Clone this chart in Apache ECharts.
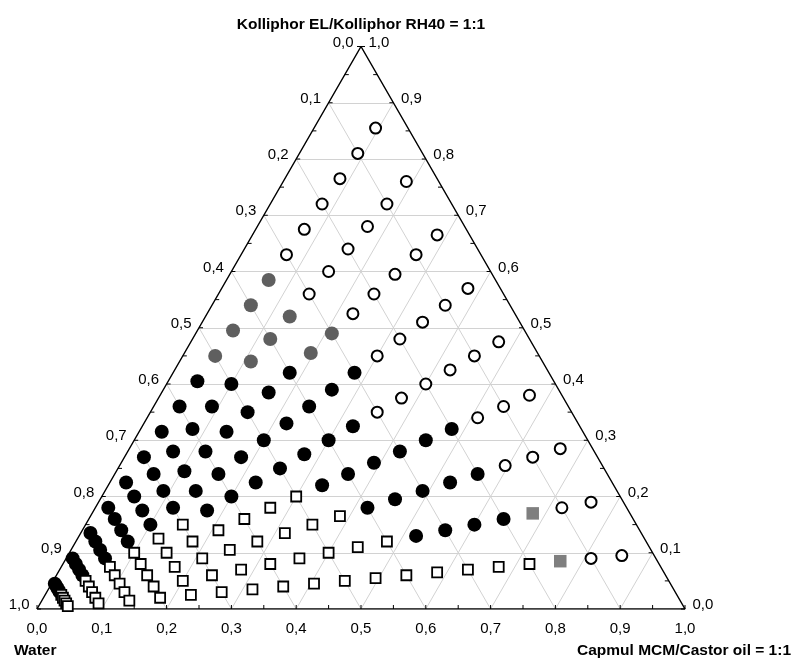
<!DOCTYPE html>
<html><head><meta charset="utf-8">
<script src="https://cdn.jsdelivr.net/npm/echarts@6/dist/echarts.min.js"></script>
<style>html,body{margin:0;padding:0;background:#fff}#c{width:793px;height:659px}</style>
</head><body><div id="c"></div>
<script>
// Pseudo-ternary diagram. Components: S = Kolliphor EL/RH40 (top), O = Capmul MCM/Castor oil (right), W = Water (left).
// Each point is [r, w]: r = S/(S+O) mixing ratio (dilution line), w = water fraction.
const tickLabels = ['0,0','0,1','0,2','0,3','0,4','0,5','0,6','0,7','0,8','0,9','1,0'];
const tickLabelValues = [0,0.1,0.2,0.3,0.4,0.5,0.6,0.7,0.8,0.9,1.0];
const tickMarks = [0,0.05,0.1,0.15,0.2,0.25,0.3,0.35,0.4,0.45,0.5,0.55,0.6,0.65,0.7,0.75,0.8,0.85,0.9,0.95,1.0];
const gridValues = [0.1,0.2,0.3,0.4,0.5,0.6,0.7,0.8,0.9];

const openCircles = [
  [0.9,0.05],[0.9,0.10],[0.9,0.15],[0.9,0.20],[0.9,0.25],[0.9,0.30],
  [0.8,0.05],[0.8,0.10],[0.8,0.15],[0.8,0.20],[0.8,0.25],[0.8,0.30],
  [0.7,0.05],[0.7,0.10],[0.7,0.15],[0.7,0.20],[0.7,0.25],
  [0.6,0.05],[0.6,0.10],[0.6,0.15],[0.6,0.20],[0.6,0.25],
  [0.5,0.05],[0.5,0.10],[0.5,0.15],[0.5,0.20],[0.5,0.25],[0.5,0.30],
  [0.4,0.05],[0.4,0.10],[0.4,0.15],
  [0.3,0.05],[0.3,0.10],[0.3,0.15],
  [0.2,0.05],[0.2,0.10],
  [0.1,0.05],[0.1,0.10]
];
const grayCircles = [
  [0.9,0.35],[0.9,0.40],[0.9,0.45],[0.9,0.50],
  [0.8,0.35],[0.8,0.40],[0.8,0.45],
  [0.7,0.30],[0.7,0.35]
];
const blackCircles = [
  [0.9,0.55],[0.9,0.60],[0.9,0.65],[0.9,0.70],[0.9,0.75],[0.9,0.80],[0.9,0.85],[0.9,0.90],[0.9,0.95],
  [0.8,0.50],[0.8,0.55],[0.8,0.60],[0.8,0.65],[0.8,0.70],[0.8,0.75],[0.8,0.80],[0.8,0.85],[0.8,0.90],[0.8,0.95],
  [0.7,0.40],[0.7,0.45],[0.7,0.50],[0.7,0.55],[0.7,0.60],[0.7,0.65],[0.7,0.70],[0.7,0.75],[0.7,0.80],[0.7,0.85],[0.7,0.90],[0.7,0.95],
  [0.6,0.30],[0.6,0.35],[0.6,0.40],[0.6,0.45],[0.6,0.50],[0.6,0.55],[0.6,0.60],[0.6,0.65],[0.6,0.70],[0.6,0.75],[0.6,0.80],[0.6,0.85],[0.6,0.90],[0.6,0.95],
  [0.5,0.35],[0.5,0.40],[0.5,0.45],[0.5,0.50],[0.5,0.55],[0.5,0.60],[0.5,0.65],
  [0.4,0.20],[0.4,0.25],[0.4,0.30],[0.4,0.35],[0.4,0.40],[0.4,0.45],
  [0.3,0.20],[0.3,0.25],[0.3,0.30],[0.3,0.35],[0.3,0.40],
  [0.2,0.20],[0.2,0.25],[0.2,0.30],[0.2,0.35]
];
const graySquares = [
  [0.2,0.15],[0.1,0.15]
];
const openSquares = [
  [0.5,0.70],[0.5,0.75],[0.5,0.80],[0.5,0.85],[0.5,0.90],[0.5,0.95],
  [0.4,0.50],[0.4,0.55],[0.4,0.60],[0.4,0.65],[0.4,0.70],[0.4,0.75],[0.4,0.80],[0.4,0.85],[0.4,0.90],[0.4,0.95],
  [0.3,0.45],[0.3,0.50],[0.3,0.55],[0.3,0.60],[0.3,0.65],[0.3,0.70],[0.3,0.75],[0.3,0.80],[0.3,0.85],[0.3,0.90],[0.3,0.95],
  [0.2,0.40],[0.2,0.45],[0.2,0.50],[0.2,0.55],[0.2,0.60],[0.2,0.65],[0.2,0.70],[0.2,0.75],[0.2,0.80],[0.2,0.85],[0.2,0.90],[0.2,0.95],
  [0.1,0.20],[0.1,0.25],[0.1,0.30],[0.1,0.35],[0.1,0.40],[0.1,0.45],[0.1,0.50],[0.1,0.55],[0.1,0.60],[0.1,0.65],[0.1,0.70],[0.1,0.75],[0.1,0.80],[0.1,0.85],[0.1,0.90],[0.1,0.95]
];

// ternary (S,O) -> cartesian data coords: x = O + S/2, y = S
function toXY(p){
  const r = p[0], w = p[1];
  const S = (1 - w) * r, O = (1 - w) * (1 - r);
  return [O + S / 2, S];
}

const FONT = '"Liberation Sans", Arial, sans-serif';

// gridlines (three families)
const gridSegs = [];
gridValues.forEach(v => {
  gridSegs.push({coords: [[v/2, v], [1 - v/2, v]]});           // constant S
  gridSegs.push({coords: [[v, 0], [v + (1 - v)/2, 1 - v]]});   // constant O
  gridSegs.push({coords: [[(1 - v)/2, 1 - v], [1 - v, 0]]});   // constant W
});

const chart = echarts.init(document.getElementById('c'), null, {renderer: 'canvas'});
chart.setOption({
  animation: false,
  backgroundColor: '#fff',
  grid: {left: 37, top: 46.5, width: 648, height: 562.5},
  xAxis: {type: 'value', min: 0, max: 1, show: false},
  yAxis: {type: 'value', min: 0, max: 1, show: false},
  graphic: [
    {type: 'text', x: 361, y: 25, style: {text: 'Kolliphor EL/Kolliphor RH40 = 1:1', font: 'bold 15.5px ' + FONT, fill: '#000', align: 'center', verticalAlign: 'middle'}},
    {type: 'text', x: 14, y: 651, style: {text: 'Water', font: 'bold 15.5px ' + FONT, fill: '#000', align: 'left', verticalAlign: 'middle'}},
    {type: 'text', x: 791, y: 651, style: {text: 'Capmul MCM/Castor oil = 1:1', font: 'bold 15.5px ' + FONT, fill: '#000', align: 'right', verticalAlign: 'middle'}}
  ],
  series: [
    {type: 'lines', coordinateSystem: 'cartesian2d', silent: true, z: 1,
     lineStyle: {color: '#d2d2d2', width: 1, opacity: 1}, data: gridSegs},
    {type: 'line', silent: true, z: 2, symbol: 'none',
     lineStyle: {color: '#000', width: 1.5}, data: [[0,0],[1,0],[0.5,1],[0,0]]},
    {type: 'custom', silent: true, z: 3, data: tickMarks.map(v => [v, 0]),
     renderItem: function(params, api){
       const v = api.value(0);
       const b = api.coord([v, 0]);
       const l = api.coord([(1 - v)/2, 1 - v]);
       const r = api.coord([1 - v/2, v]);
       const st = {stroke: '#000', lineWidth: 1};
       return {type: 'group', children: [
         {type: 'line', shape: {x1: b[0], y1: b[1], x2: b[0], y2: b[1] - 4}, style: st},
         {type: 'line', shape: {x1: l[0], y1: l[1], x2: l[0] + 4, y2: l[1]}, style: st},
         {type: 'line', shape: {x1: r[0], y1: r[1], x2: r[0] - 4, y2: r[1]}, style: st}
       ]};
     }},
    {type: 'custom', silent: true, z: 3, data: tickLabelValues.map((v, i) => [v, 0, i]),
     renderItem: function(params, api){
       const v = api.value(0);
       const t = tickLabels[api.value(2)];
       const b = api.coord([v, 0]);
       const l = api.coord([(1 - v)/2, 1 - v]);
       const r = api.coord([1 - v/2, v]);
       const f = '15px ' + FONT;
       return {type: 'group', children: [
         {type: 'text', x: b[0], y: b[1] + 20, style: {text: t, font: f, fill: '#000', align: 'center', verticalAlign: 'middle'}},
         {type: 'text', x: l[0] - 7.5, y: l[1] - 4, style: {text: t, font: f, fill: '#000', align: 'right', verticalAlign: 'middle'}},
         {type: 'text', x: r[0] + 7.5, y: r[1] - 4, style: {text: t, font: f, fill: '#000', align: 'left', verticalAlign: 'middle'}}
       ]};
     }},
    {type: 'scatter', name: 'open circles', z: 5, symbol: 'circle', symbolSize: 11,
     itemStyle: {color: '#fff', borderColor: '#000', borderWidth: 2, opacity: 1}, data: openCircles.map(toXY)},
    {type: 'scatter', name: 'gray circles', z: 5, symbol: 'circle', symbolSize: 14,
     itemStyle: {color: '#5f5f5f', opacity: 1}, data: grayCircles.map(toXY)},
    {type: 'scatter', name: 'black circles', z: 5, symbol: 'circle', symbolSize: 14,
     itemStyle: {color: '#000', opacity: 1}, data: blackCircles.map(toXY)},
    {type: 'scatter', name: 'gray squares', z: 5, symbol: 'rect', symbolSize: 12.5,
     itemStyle: {color: '#7f7f7f', opacity: 1}, data: graySquares.map(toXY)},
    {type: 'scatter', name: 'open squares', z: 5, symbol: 'rect', symbolSize: 10,
     itemStyle: {color: '#fff', borderColor: '#000', borderWidth: 1.8, opacity: 1}, data: openSquares.map(toXY)}
  ]
});
</script>
</body></html>
